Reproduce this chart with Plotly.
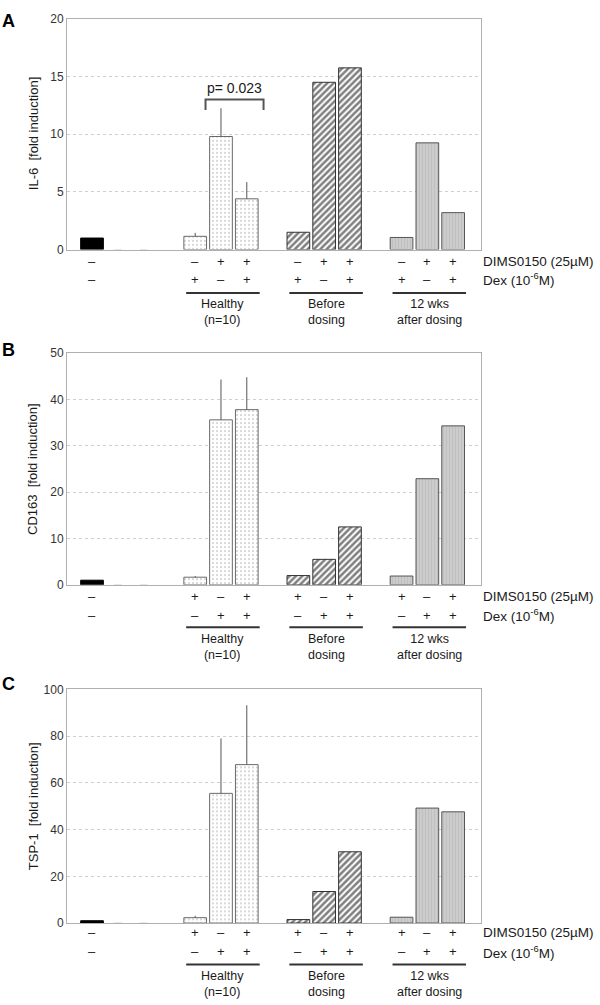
import plotly.graph_objects as go

W, H = 600, 1005

# ---------------- data ----------------
control_x = [0]
blank_x = [1, 2]
healthy_x = [4, 5, 6]
before_x = [8, 9, 10]
wks_x = [12, 13, 14]
sign_x = [0, 4, 5, 6, 8, 9, 10, 12, 13, 14]

group_labels = ["Healthy<br>(n=10)", "Before<br>dosing", "12 wks<br>after dosing"]
group_spans = [(4, 6), (8, 10), (12, 14)]

# Panel A : IL-6
il6_control = [1.0]
il6_blank = [0, 0]
il6_healthy = [1.15, 9.8, 4.4]
il6_healthy_err = [0.3, 2.45, 1.45]
il6_before = [1.5, 14.5, 15.75]
il6_wks = [1.05, 9.25, 3.2]
il6_dims = ["–", "–", "+", "+", "–", "+", "+", "–", "+", "+"]
il6_dex = ["–", "+", "–", "+", "+", "–", "+", "+", "–", "+"]

# Panel B : CD163
cd163_control = [1.0]
cd163_blank = [0, 0]
cd163_healthy = [1.65, 35.6, 37.8]
cd163_healthy_err = [0.25, 8.7, 7.0]
cd163_before = [2.0, 5.5, 12.5]
cd163_wks = [1.9, 22.9, 34.3]
cd163_dims = ["–", "+", "–", "+", "+", "–", "+", "+", "–", "+"]
cd163_dex = ["–", "–", "+", "+", "–", "+", "+", "–", "+", "+"]

# Panel C : TSP-1
tsp1_control = [1.0]
tsp1_blank = [0, 0]
tsp1_healthy = [2.3, 55.5, 67.8]
tsp1_healthy_err = [0.8, 23.5, 25.4]
tsp1_before = [1.5, 13.5, 30.5]
tsp1_wks = [2.5, 49.2, 47.6]
tsp1_dims = ["–", "+", "–", "+", "+", "–", "+", "+", "–", "+"]
tsp1_dex = ["–", "–", "+", "+", "–", "+", "+", "–", "+", "+"]

panel_titles = ["IL-6  [fold induction]", "CD163  [fold induction]", "TSP-1  [fold induction]"]
panel_letters = ["A", "B", "C"]
y_max = [20, 50, 100]
y_dtick = [5, 10, 20]

p_text = "p= 0.023"
p_bracket_x = (4.4, 6.65)
p_bracket_y = (12.1, 13.0)
p_text_y = 14.0

# ---------------- layout geometry (pixels) ----------------
plot_left, plot_right = 67, 481
panel_top = [12, 351, 692]
panel_bot = [246, 586, 929]
row_dims_y = [258, 598, 939]
row_dex_y = [276, 617, 958]
line_y = [290, 629, 971]
label_y = [292, 632, 974]
letter_y = [2, 336, 674]

def py(p):
    return 1 - p / H

FONT = "Liberation Sans, Arial, sans-serif"
TXT = "#1a1a1a"
OUT = "#555555"

panels = [
    (il6_control, il6_blank, il6_healthy, il6_healthy_err, il6_before, il6_wks, il6_dims, il6_dex),
    (cd163_control, cd163_blank, cd163_healthy, cd163_healthy_err, cd163_before, cd163_wks, cd163_dims, cd163_dex),
    (tsp1_control, tsp1_blank, tsp1_healthy, tsp1_healthy_err, tsp1_before, tsp1_wks, tsp1_dims, tsp1_dex),
]

fig = go.Figure()
annotations = []
shapes = []
BW = 0.88

for i, (ctrl, blank, hl, hl_err, bef, wk, dims, dex) in enumerate(panels):
    n = "" if i == 0 else str(i + 1)
    xa, ya = "x" + n, "y" + n
    fig.add_trace(go.Bar(x=control_x, y=ctrl, width=BW, xaxis=xa, yaxis=ya,
                         marker=dict(color="#000000", line=dict(color="#000000", width=1)),
                         showlegend=False, hoverinfo="skip"))
    fig.add_trace(go.Bar(x=blank_x, y=blank, width=0.3, xaxis=xa, yaxis=ya,
                         marker=dict(color="#dddddd", line=dict(color="#dddddd", width=1)),
                         showlegend=False, hoverinfo="skip"))
    fig.add_trace(go.Bar(x=healthy_x, y=hl, width=BW, xaxis=xa, yaxis=ya,
                         marker=dict(color="#ffffff", line=dict(color="#6a6a6a", width=1),
                                     pattern=dict(shape=".", fgcolor="#a0a0a0", bgcolor="#ffffff",
                                                  size=4, solidity=0.22)),
                         error_y=dict(type="data", array=hl_err, symmetric=False,
                                      arrayminus=[0] * len(hl_err), color=OUT,
                                      thickness=1, width=0),
                         showlegend=False, hoverinfo="skip"))
    fig.add_trace(go.Bar(x=before_x, y=bef, width=BW, xaxis=xa, yaxis=ya,
                         marker=dict(color="#ffffff", line=dict(color="#333333", width=1),
                                     pattern=dict(shape="/", fgcolor="#000000", bgcolor="#ffffff",
                                                  size=4.5, solidity=0.55)),
                         showlegend=False, hoverinfo="skip"))
    fig.add_trace(go.Bar(x=wks_x, y=wk, width=BW, xaxis=xa, yaxis=ya,
                         marker=dict(color="#cacaca", line=dict(color="#555555", width=1),
                                     pattern=dict(shape="|", fgcolor="#b2b2b2", bgcolor="#cdcdcd",
                                                  size=3, solidity=0.4)),
                         showlegend=False, hoverinfo="skip"))

    ydom = [py(panel_bot[i]), py(panel_top[i])]
    fig.update_layout(**{
        ("xaxis" + n): dict(domain=[plot_left / W, plot_right / W], range=[-0.97, 15.08],
                            anchor=ya, showticklabels=False, showgrid=False, zeroline=False,
                            showline=True, linecolor="#b0b0b0", linewidth=1, mirror=True,
                            ticks=""),
        ("yaxis" + n): dict(domain=ydom, range=[0, y_max[i]], dtick=y_dtick[i], anchor=xa,
                            showgrid=True, gridcolor="#cfcfcf", griddash="dot", gridwidth=1,
                            zeroline=False, showline=True, linecolor="#b0b0b0", linewidth=1,
                            mirror=True, ticks="", ticklen=0,
                            tickfont=dict(family=FONT, size=12, color="#333333")),
    })

    # y title
    annotations.append(dict(text=panel_titles[i], xref="paper", yref="paper",
                            x=33 / W, y=(ydom[0] + ydom[1]) / 2, textangle=-90,
                            showarrow=False, font=dict(family=FONT, size=13, color=TXT),
                            xanchor="center", yanchor="middle"))
    # panel letter
    annotations.append(dict(text="<b>" + panel_letters[i] + "</b>", xref="paper", yref="paper",
                            x=0 / W, y=py(letter_y[i]), showarrow=False,
                            font=dict(family=FONT, size=18, color="#000000"),
                            xanchor="left", yanchor="top"))
    # sign rows
    for xv, sd, sx in zip(sign_x, dims, dex):
        annotations.append(dict(text=sd, xref=xa, yref="paper", x=xv, y=py(row_dims_y[i]),
                                showarrow=False, font=dict(family=FONT, size=13, color=TXT),
                                xanchor="center", yanchor="middle"))
        annotations.append(dict(text=sx, xref=xa, yref="paper", x=xv, y=py(row_dex_y[i]),
                                showarrow=False, font=dict(family=FONT, size=13, color=TXT),
                                xanchor="center", yanchor="middle"))
    # row labels
    annotations.append(dict(text="DIMS0150 (25µM)", xref="paper", yref="paper",
                            x=481 / W, y=py(row_dims_y[i]), showarrow=False,
                            font=dict(family=FONT, size=13.5, color=TXT),
                            xanchor="left", yanchor="middle"))
    annotations.append(dict(text="Dex (10<sup>-6</sup>M)", xref="paper", yref="paper",
                            x=481 / W, y=py(row_dex_y[i]), showarrow=False,
                            font=dict(family=FONT, size=13.5, color=TXT),
                            xanchor="left", yanchor="middle"))
    # group underline + labels
    for (g0, g1), gl in zip(group_spans, group_labels):
        shapes.append(dict(type="line", xref=xa, yref="paper", x0=g0 - 0.35, x1=g1 + 0.5,
                           y0=py(line_y[i]), y1=py(line_y[i]),
                           line=dict(color="#333333", width=2)))
        annotations.append(dict(text=gl, xref=xa, yref="paper", x=(g0 - 0.35 + g1 + 0.5) / 2,
                                y=py(label_y[i]), showarrow=False,
                                font=dict(family=FONT, size=12.5, color=TXT),
                                xanchor="center", yanchor="top"))

# p-value bracket on panel A
bx0, bx1 = p_bracket_x
by0, by1 = p_bracket_y
shapes.append(dict(type="path", xref="x", yref="y",
                   path=f"M {bx0} {by0} L {bx0} {by1} L {bx1} {by1} L {bx1} {by0}",
                   line=dict(color="#555555", width=2)))
annotations.append(dict(text=p_text, xref="x", yref="y", x=(bx0 + bx1) / 2, y=p_text_y,
                        showarrow=False, font=dict(family=FONT, size=14, color=TXT),
                        xanchor="center", yanchor="middle"))

fig.update_layout(width=W, height=H, margin=dict(l=0, r=0, t=0, b=0),
                  paper_bgcolor="white", plot_bgcolor="white", barmode="overlay",
                  annotations=annotations, shapes=shapes,
                  font=dict(family=FONT))

fig.write_html("out.html", config={"displayModeBar": False},
               post_script="document.body.style.margin='0';document.body.style.padding='0';"
                           "document.body.style.overflow='hidden';")
